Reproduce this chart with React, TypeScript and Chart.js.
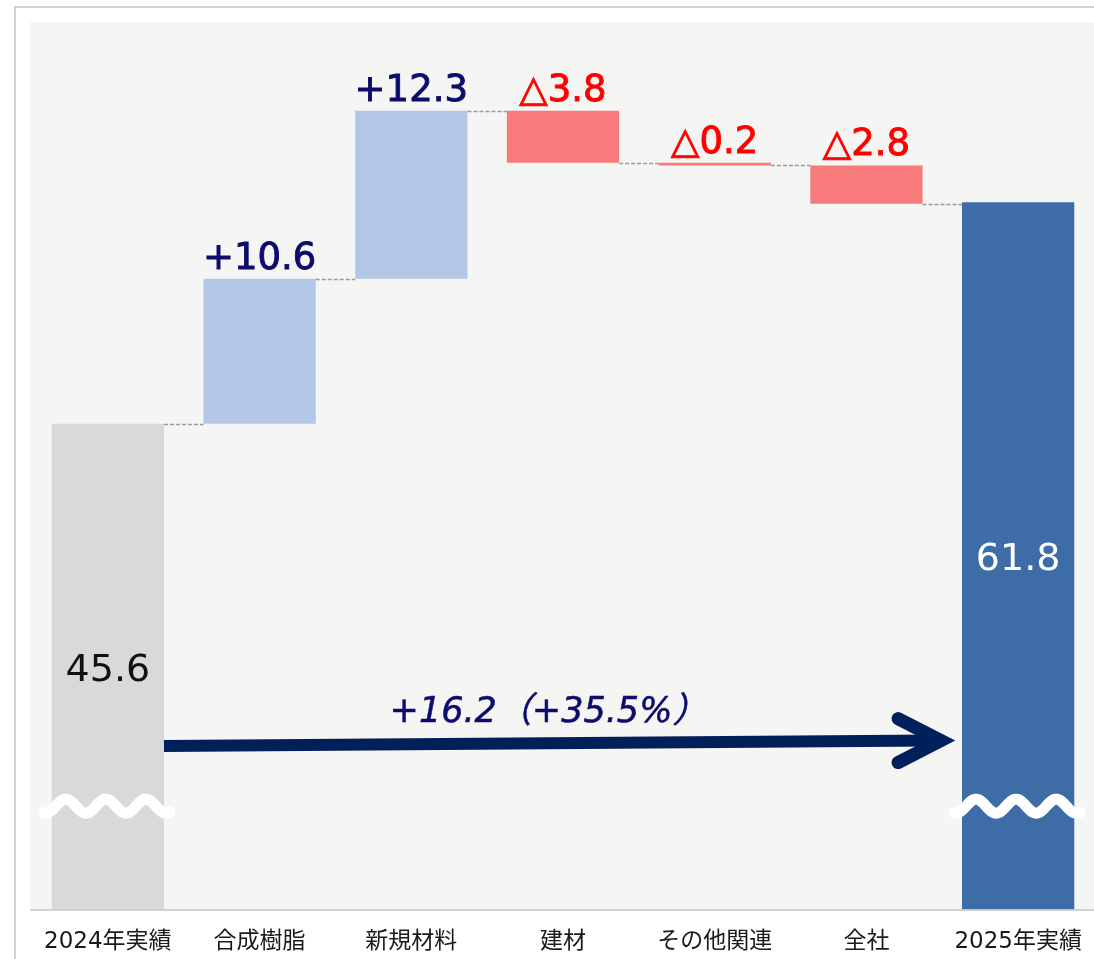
import React, { useEffect, useRef } from 'react';
import { Chart, registerables } from 'chart.js';

Chart.register(...registerables);

// ---- data ----
const categories = ['2024年実績', '合成樹脂', '新規材料', '建材', 'その他関連', '全社', '2025年実績'];
const startValue = 45.6;
const deltas = [10.6, 12.3, -3.8, -0.2, -2.8];
const endValue = 61.8;
const changeLabel = '+16.2（+35.5%）';
const yMin = 10;
const yMax = 75;
const breakMarkValue = 17.6;
const arrowFromValue = 22.0;
const arrowToValue = 22.4;

// ---- derived ----
const ranges: [number, number][] = [];
ranges.push([yMin, startValue]);
let running = startValue;
deltas.forEach((d) => {
  const next = Math.round((running + d) * 10) / 10;
  ranges.push([running, next]);
  running = next;
});
ranges.push([yMin, endValue]);

const valueLabels = [
  startValue.toFixed(1),
  ...deltas.map((d) => (d >= 0 ? '+' + d.toFixed(1) : '△' + Math.abs(d).toFixed(1))),
  endValue.toFixed(1),
];

const FONT = '"DejaVu Sans", "Noto Sans CJK JP", sans-serif';
const barColors = categories.map((_, i) => {
  if (i === 0) return '#d9d9d9';
  if (i === categories.length - 1) return '#3d6ca6';
  return deltas[i - 1] >= 0 ? '#b4c7e7' : '#f87b7b';
});

const decorPlugin = {
  id: 'decor',
  beforeDraw(chart: any) {
    const { ctx, chartArea } = chart;
    const W = chart.width;
    const H = chart.height;
    const bgLeft = chartArea.left - 2;
    ctx.save();
    ctx.fillStyle = '#ffffff';
    ctx.fillRect(0, 0, W, H);
    // outer frame lines
    ctx.strokeStyle = '#c4c4c4';
    ctx.lineWidth = 1.5;
    ctx.beginPath();
    ctx.moveTo(bgLeft - 15, H);
    ctx.lineTo(bgLeft - 15, chartArea.top - 15);
    ctx.lineTo(W, chartArea.top - 15);
    ctx.stroke();
    // plot background
    ctx.fillStyle = '#f5f5f4';
    ctx.fillRect(bgLeft, chartArea.top, chartArea.right - bgLeft, chartArea.bottom - chartArea.top);
    ctx.restore();
  },
  afterDatasetsDraw(chart: any) {
    const { ctx, chartArea } = chart;
    const yScale = chart.scales.y;
    const xScale = chart.scales.x;
    const meta = chart.getDatasetMeta(0);
    const bars = meta.data;
    ctx.save();

    // baseline
    ctx.strokeStyle = 'rgba(205,205,205,0.9)';
    ctx.lineWidth = 2;
    ctx.beginPath();
    ctx.moveTo(chartArea.left - 2, chartArea.bottom);
    ctx.lineTo(chartArea.right, chartArea.bottom);
    ctx.stroke();

    // category labels (from the x scale)
    ctx.font = `23px ${FONT}`;
    ctx.fillStyle = '#1a1a1a';
    ctx.textAlign = 'center';
    ctx.textBaseline = 'middle';
    categories.forEach((_, i) => {
      const label = xScale.getLabelForValue(i);
      ctx.fillText(label, xScale.getPixelForValue(i), chartArea.bottom + 32);
    });

    // connectors
    ctx.strokeStyle = '#9a9a9a';
    ctx.lineWidth = 1.3;
    ctx.setLineDash([4, 2]);
    for (let i = 0; i < bars.length - 1; i++) {
      const b = bars[i];
      const n = bars[i + 1];
      const level = ranges[i][1];
      const y = Math.round(yScale.getPixelForValue(level)) + 0.5;
      ctx.beginPath();
      ctx.moveTo(b.x + b.width / 2, y);
      ctx.lineTo(n.x - n.width / 2, y);
      ctx.stroke();
    }
    ctx.setLineDash([]);

    // value labels
    bars.forEach((b: any, i: number) => {
      const [lo, hi] = ranges[i];
      const topV = Math.max(lo, hi);
      const topY = yScale.getPixelForValue(topV);
      ctx.textAlign = 'center';
      ctx.textBaseline = 'alphabetic';
      if (i === 0 || i === bars.length - 1) {
        const size = 38;
        ctx.font = `${size}px ${FONT}`;
        ctx.fillStyle = i === 0 ? '#111111' : '#ffffff';
        const mid = (topY + chartArea.bottom) / 2;
        ctx.fillText(valueLabels[i], b.x, mid + size * 0.365);
      } else {
        const size = 37;
        const pos = deltas[i - 1] >= 0;
        ctx.font = `${size}px ${FONT}`;
        ctx.fillStyle = pos ? '#0c0c6c' : '#ff0000';
        ctx.strokeStyle = ctx.fillStyle;
        ctx.lineWidth = 0.9;
        ctx.fillText(valueLabels[i], b.x, topY - 10);
        ctx.strokeText(valueLabels[i], b.x, topY - 10);
      }
    });

    // break marks (wavy)
    [0, bars.length - 1].forEach((i) => {
      const b = bars[i];
      const x0 = b.x - b.width / 2 - 8;
      const x1 = b.x + b.width / 2 + 6;
      const yc = yScale.getPixelForValue(breakMarkValue);
      const period = (x1 - x0) / 3.15;
      const amp = 7;
      ctx.strokeStyle = '#ffffff';
      ctx.lineWidth = 11;
      ctx.lineCap = 'round';
      ctx.lineJoin = 'round';
      ctx.beginPath();
      for (let x = x0; x <= x1; x += 1) {
        const t = x - x0;
        const y = yc - amp * Math.cos((2 * Math.PI * (t - period * 0.55)) / period);
        if (x === x0) ctx.moveTo(x, y);
        else ctx.lineTo(x, y);
      }
      ctx.stroke();
    });

    // arrow
    const first = bars[0];
    const last = bars[bars.length - 1];
    const ax0 = first.x + first.width / 2;
    const ax1 = last.x - last.width / 2 - 17;
    const ay0 = yScale.getPixelForValue(arrowFromValue);
    const ay1 = yScale.getPixelForValue(arrowToValue);
    ctx.strokeStyle = '#00205c';
    ctx.lineCap = 'butt';
    ctx.lineWidth = 12;
    ctx.beginPath();
    ctx.moveTo(ax0, ay0);
    ctx.lineTo(ax1 - 12, ay1);
    ctx.stroke();
    ctx.lineWidth = 13;
    ctx.lineCap = 'round';
    ctx.lineJoin = 'miter';
    ctx.beginPath();
    ctx.moveTo(ax1 - 47, ay1 - 22);
    ctx.lineTo(ax1 - 4, ay1);
    ctx.lineTo(ax1 - 47, ay1 + 22);
    ctx.stroke();

    // change label
    ctx.font = `italic 35px ${FONT}`;
    ctx.fillStyle = '#0c0c6c';
    ctx.strokeStyle = '#0c0c6c';
    ctx.lineWidth = 0.5;
    ctx.textAlign = 'center';
    ctx.textBaseline = 'alphabetic';
    const tx = (ax0 + ax1) / 2 - 6;
    const ty = (ay0 + ay1) / 2 - 21;
    ctx.fillText(changeLabel, tx, ty);
    ctx.strokeText(changeLabel, tx, ty);

    ctx.restore();
  },
};

export default function App() {
  const canvasRef = useRef<HTMLCanvasElement | null>(null);

  useEffect(() => {
    document.body.style.margin = '0';
    const canvas = canvasRef.current;
    if (!canvas) return;
    const chart = new Chart(canvas, {
      type: 'bar',
      data: {
        labels: categories,
        datasets: [
          {
            data: ranges as any,
            backgroundColor: barColors,
            borderWidth: 0,
            barPercentage: 0.74,
            categoryPercentage: 1,
          },
        ],
      },
      options: {
        animation: false,
        responsive: false,
        devicePixelRatio: 1,
        layout: { padding: { left: 32, top: 22, right: 0, bottom: 49 } },
        plugins: {
          legend: { display: false },
          tooltip: { enabled: false },
          title: { display: false },
        },
        scales: {
          x: {
            display: false,
          },
          y: {
            display: false,
            min: yMin,
            max: yMax,
          },
        },
      },
      plugins: [decorPlugin],
    });
    return () => chart.destroy();
  }, []);

  return (
    <div style={{ position: 'fixed', left: 0, top: 0, width: 1094, height: 959 }}>
      <canvas ref={canvasRef} width={1094} height={959} style={{ display: 'block' }} />
    </div>
  );
}
